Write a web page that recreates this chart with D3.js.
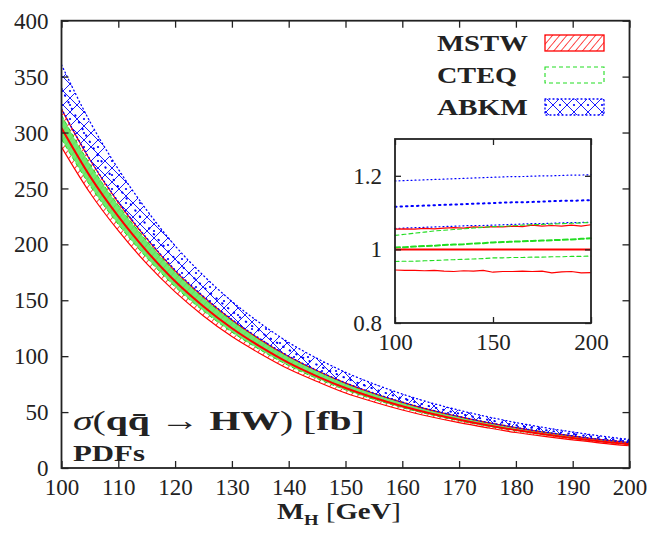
<!DOCTYPE html>
<html><head><meta charset="utf-8">
<script src="https://cdn.jsdelivr.net/npm/d3@7"></script>
<style>body{margin:0;background:#fff} svg{display:block}</style>
</head><body><svg id="c" width="650" height="533"></svg>
<script>
// ---------- data ----------
const massGrid = [100,105,110,115,120,125,130,135,140,145,150,155,160,165,170,175,180,185,190,195,200];
// MSTW central cross section [fb]
const mstwCentral = [304,261,225,194,167,144.5,125,108.5,94,82,71.5,62.8,55.2,48.7,43.1,38.2,33.9,30.1,26.8,23.8,21.2];
// ratios to MSTW central (inset)
const mstwUpRatio   = [1.055,1.056,1.055,1.057,1.056,1.058,1.059,1.058,1.061,1.060,1.062,1.061,1.063,1.062,1.066,1.063,1.065,1.063,1.066,1.063,1.067];
const mstwDownRatio = [0.944,0.943,0.943,0.942,0.943,0.941,0.940,0.942,0.941,0.943,0.938,0.940,0.940,0.941,0.940,0.941,0.936,0.939,0.940,0.936,0.937];
const cteqUpRatio   = [1.038,1.041,1.044,1.047,1.050,1.052,1.054,1.056,1.058,1.060,1.062,1.063,1.064,1.066,1.067,1.068,1.069,1.070,1.071,1.072,1.073];
const cteqMidRatio  = [1.005,1.006,1.008,1.009,1.010,1.012,1.013,1.014,1.016,1.017,1.019,1.020,1.021,1.022,1.023,1.024,1.025,1.026,1.027,1.029,1.030];
const cteqDownRatio = [0.967,0.968,0.968,0.969,0.970,0.971,0.972,0.973,0.974,0.975,0.977,0.977,0.978,0.978,0.979,0.979,0.980,0.980,0.981,0.981,0.982];
const abkmUpRatio   = [1.186,1.187,1.188,1.189,1.190,1.191,1.192,1.193,1.194,1.195,1.196,1.197,1.198,1.198,1.199,1.200,1.200,1.201,1.202,1.202,1.203];
const abkmMidRatio  = [1.116,1.117,1.118,1.119,1.120,1.121,1.122,1.123,1.124,1.125,1.126,1.127,1.128,1.128,1.129,1.130,1.131,1.132,1.132,1.133,1.134];
const abkmDownRatio = [1.057,1.058,1.059,1.060,1.061,1.062,1.063,1.064,1.065,1.065,1.066,1.067,1.068,1.069,1.070,1.070,1.071,1.072,1.073,1.073,1.074];
const xTicks = [100,110,120,130,140,150,160,170,180,190,200];
const yTicks = [0,50,100,150,200,250,300,350,400];
const insetXTicks = [100,150,200];
const insetYTicks = [0.8,1,1.2];
const legendNames = ["MSTW","CTEQ","ABKM"];

// ---------- setup ----------
const svg = d3.select("#c");
const RED="#ff0000", GREEN="#22dd22", BLUE="#0000ff", INK="#222";
const serif = "'Liberation Serif', 'DejaVu Serif', serif";

const x = d3.scaleLinear().domain([100,200]).range([61.5,629.5]);
const y = d3.scaleLinear().domain([0,400]).range([468,20.7]);
const xi = d3.scaleLinear().domain([100,200]).range([395,591]);
const yi = d3.scaleLinear().domain([0.8,1.3]).range([323,139]);

const defs = svg.append("defs");
const hatch = defs.append("pattern").attr("id","hatch").attr("patternUnits","userSpaceOnUse")
  .attr("width",5.5).attr("height",5.5).attr("patternTransform","rotate(40)");
hatch.append("line").attr("x1",0).attr("y1",0).attr("x2",0).attr("y2",5.5).attr("stroke",RED).attr("stroke-width",1.4);
const cross = defs.append("pattern").attr("id","cross").attr("patternUnits","userSpaceOnUse")
  .attr("width",14).attr("height",14);
cross.append("path").attr("d","M0,0L14,14M14,0L0,14").attr("stroke",BLUE).attr("stroke-width",0.9).attr("fill","none");
cross.append("circle").attr("cx",0).attr("cy",7).attr("r",1.1).attr("fill",BLUE);
cross.append("circle").attr("cx",14).attr("cy",7).attr("r",1.1).attr("fill",BLUE);
defs.append("clipPath").attr("id","plotclip").append("rect")
  .attr("x",61.5).attr("y",20.7).attr("width",568).attr("height",447.3);

const rows = massGrid.map((m,i)=>({m, c:mstwCentral[i], i}));
const val = (arr) => (d)=> d.c*arr[d.i];
const area = (lo,hi)=> d3.area().x(d=>x(d.m)).y0(d=>y(val(lo)(d))).y1(d=>y(val(hi)(d))).curve(d3.curveMonotoneX);
const line = (arr)=> d3.line().x(d=>x(d.m)).y(d=>y(val(arr)(d))).curve(d3.curveMonotoneX);
const ones = massGrid.map(()=>1);

const plot = svg.append("g").attr("clip-path","url(#plotclip)");
// ABKM band
plot.append("path").datum(rows).attr("d",area(abkmDownRatio,abkmUpRatio)).attr("fill","url(#cross)");
// MSTW band
plot.append("path").datum(rows).attr("d",area(mstwDownRatio,mstwUpRatio)).attr("fill","url(#hatch)");
// CTEQ band
plot.append("path").datum(rows).attr("d",area(cteqDownRatio,cteqUpRatio)).attr("fill","#5ee85e").attr("opacity",0.9);
[cteqUpRatio,cteqDownRatio].forEach(a=>plot.append("path").datum(rows).attr("d",line(a)).attr("fill","none")
  .attr("stroke",GREEN).attr("stroke-width",1).attr("stroke-dasharray","4,3"));
[mstwUpRatio,mstwDownRatio].forEach(a=>plot.append("path").datum(rows).attr("d",line(a)).attr("fill","none")
  .attr("stroke",RED).attr("stroke-width",1.2));
plot.append("path").datum(rows).attr("d",line(ones)).attr("fill","none").attr("stroke",RED).attr("stroke-width",2);
[abkmUpRatio,abkmDownRatio].forEach(a=>plot.append("path").datum(rows).attr("d",line(a)).attr("fill","none")
  .attr("stroke",BLUE).attr("stroke-width",1.3).attr("stroke-dasharray","1,3").attr("stroke-linecap","round"));
plot.append("path").datum(rows).attr("d",line(abkmMidRatio)).attr("fill","none")
  .attr("stroke",BLUE).attr("stroke-width",2).attr("stroke-dasharray","0.5,7").attr("stroke-linecap","round");

// ---------- axes ----------
function styleAxis(g){ g.select(".domain").remove(); g.selectAll("line").attr("stroke",INK).attr("stroke-width",1.3);
  g.selectAll("text").attr("font-family",serif).attr("font-size",23).attr("fill",INK); }
svg.append("g").attr("transform","translate(0,468)")
  .call(d3.axisBottom(x).tickValues(xTicks).tickSize(-7).tickFormat(d3.format("d")))
  .call(styleAxis).call(g=>g.selectAll("text").attr("y",27).attr("dy",0));
svg.append("g").attr("transform","translate(0,20.7)")
  .call(d3.axisTop(x).tickValues(xTicks).tickSize(-7).tickFormat("")).call(styleAxis);
svg.append("g").attr("transform","translate(61.5,0)")
  .call(d3.axisLeft(y).tickValues(yTicks).tickSize(-7).tickFormat(d3.format("d")))
  .call(styleAxis).call(g=>g.selectAll("text").attr("x",-13).attr("dy","0.33em"));
svg.append("g").attr("transform","translate(629.5,0)")
  .call(d3.axisRight(y).tickValues(yTicks).tickSize(-7).tickFormat("")).call(styleAxis);
svg.append("rect").attr("x",61.5).attr("y",20.7).attr("width",568).attr("height",447.3)
  .attr("fill","none").attr("stroke",INK).attr("stroke-width",1.8);

// helper to fit text width
function fit(sel, x0, target){
  const w = sel.node().getBBox().width;
  const s = target/w;
  sel.attr("transform",`translate(${x0},0) scale(${s},1) translate(${-x0},0)`);
}

// ---------- legend ----------
const legY = [35,67,99];
const legText = svg.append("g");
legendNames.forEach((n,k)=>{
  const t = legText.append("text").attr("x",437).attr("y",legY[k]+16.5)
    .attr("font-family",serif).attr("font-weight","bold").attr("font-size",24).attr("fill",INK).text(n);
  fit(t, 437, n==="CTEQ" ? 80 : 91);
});
svg.append("rect").attr("x",545).attr("y",35).attr("width",59).attr("height",16)
  .attr("fill","url(#hatch)").attr("stroke",RED).attr("stroke-width",1.3);
svg.append("rect").attr("x",545).attr("y",67).attr("width",59).attr("height",16)
  .attr("fill","none").attr("stroke",GREEN).attr("stroke-width",1.1).attr("stroke-dasharray","4,3");
svg.append("rect").attr("x",545).attr("y",99).attr("width",59).attr("height",16)
  .attr("fill","url(#cross)").attr("stroke",BLUE).attr("stroke-width",1.3).attr("stroke-dasharray","1,3").attr("stroke-linecap","round");

// ---------- inset ----------
const inset = svg.append("g");
inset.append("rect").attr("x",395).attr("y",139).attr("width",196).attr("height",184).attr("fill","#fff");
const irows = massGrid.map((m,i)=>({m,i}));
const iline = (arr)=> d3.line().x(d=>xi(d.m)).y(d=>yi(arr[d.i]));
const il = (arr,color,w,dash)=>{ const p=inset.append("path").datum(irows).attr("d",iline(arr)).attr("fill","none")
  .attr("stroke",color).attr("stroke-width",w); if(dash) p.attr("stroke-dasharray",dash).attr("stroke-linecap","round"); };
il(abkmUpRatio,BLUE,1.2,"1,3");
il(abkmMidRatio,BLUE,2,"1.5,4");
il(abkmDownRatio,BLUE,1.2,"1,3");
il(mstwUpRatio,RED,1.2);
il(mstwDownRatio,RED,1.2);
il(cteqUpRatio,GREEN,1.1,"4,3");
il(cteqMidRatio,GREEN,2,"5,3");
il(cteqDownRatio,GREEN,1.1,"4,3");
il(ones,RED,2);
inset.append("g").attr("transform","translate(0,323)")
  .call(d3.axisBottom(xi).tickValues(insetXTicks).tickSize(-6).tickFormat(d3.format("d")))
  .call(styleAxis).call(g=>g.selectAll("text").attr("y",27).attr("dy",0));
inset.append("g").attr("transform","translate(0,139)")
  .call(d3.axisTop(xi).tickValues(insetXTicks).tickSize(-6).tickFormat("")).call(styleAxis);
inset.append("g").attr("transform","translate(395,0)")
  .call(d3.axisLeft(yi).tickValues(insetYTicks).tickSize(-6).tickFormat(d=> d===1?"1":d3.format(".1f")(d)))
  .call(styleAxis).call(g=>g.selectAll("text").attr("x",-13).attr("dy","0.33em"));
inset.append("g").attr("transform","translate(591,0)")
  .call(d3.axisRight(yi).tickValues(insetYTicks).tickSize(-6).tickFormat("")).call(styleAxis);
inset.append("rect").attr("x",395).attr("y",139).attr("width",196).attr("height",184)
  .attr("fill","none").attr("stroke",INK).attr("stroke-width",1.8);

// ---------- labels ----------
const title = svg.append("text").attr("x",73).attr("y",430).attr("font-family",serif).attr("font-size",28).attr("fill",INK);
title.append("tspan").attr("font-style","italic").text("σ");
title.append("tspan").text("(");
title.append("tspan").attr("font-weight","bold").text("q\u0071\u0304");
title.append("tspan").text(" \u2192 ");
title.append("tspan").attr("font-weight","bold").text("HW");
title.append("tspan").text(") [");
title.append("tspan").attr("font-weight","bold").text("fb");
title.append("tspan").text("]");
fit(title,73,292);

const pdfs = svg.append("text").attr("x",73).attr("y",461.5).attr("font-family",serif).attr("font-size",23)
  .attr("font-weight","bold").attr("fill",INK).text("PDFs");
fit(pdfs,73,72);

const xl = svg.append("text").attr("x",277).attr("y",519.5).attr("font-family",serif).attr("font-size",23).attr("fill",INK);
xl.append("tspan").attr("font-weight","bold").text("M");
xl.append("tspan").attr("font-weight","bold").attr("font-size",15).attr("dy",6).text("H");
xl.append("tspan").attr("dy",-6).text(" [");
xl.append("tspan").attr("font-weight","bold").text("GeV");
xl.append("tspan").text("]");
fit(xl,277,124);
</script></body></html>
